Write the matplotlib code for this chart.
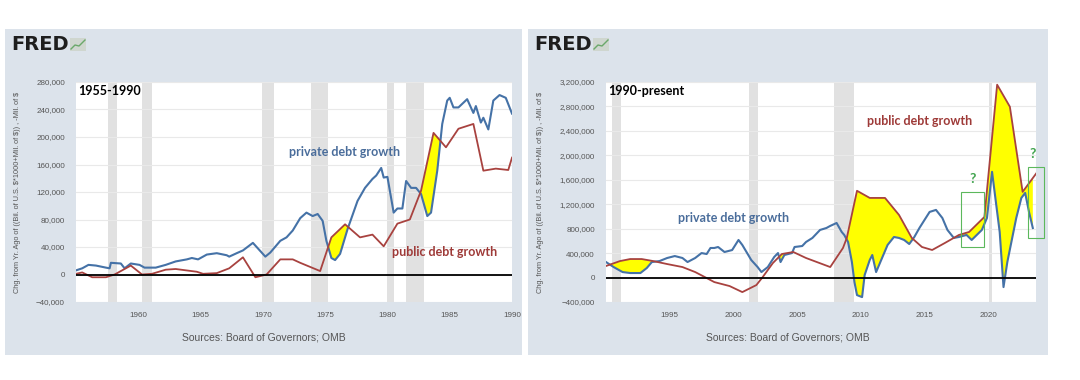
import matplotlib
matplotlib.use("Agg")
import matplotlib.pyplot as plt
import numpy as np
from matplotlib.patches import Rectangle
from matplotlib.lines import Line2D
from matplotlib.ticker import StrMethodFormatter

# --- dados: painel 1955-1990 (variação anual, mil. de $) ---
priv1_anos = [1955.0, 1955.5, 1956.0, 1956.6, 1957.4, 1957.7, 1957.8, 1958.6, 1958.9, 1959.4,
              1960.1, 1960.5, 1961.4, 1962.2, 1963.0, 1963.9, 1964.3, 1964.8, 1965.5, 1966.3,
              1967.1, 1967.3, 1967.9, 1968.4, 1969.2, 1970.2, 1970.6, 1971.4, 1971.9, 1972.4,
              1973.0, 1973.5, 1974.0, 1974.4, 1974.8, 1975.1, 1975.5, 1975.8, 1976.2, 1976.8,
              1977.6, 1978.2, 1978.8, 1979.1, 1979.5, 1979.7, 1980.0, 1980.5, 1980.8, 1981.2,
              1981.5, 1981.9, 1982.3, 1982.7, 1983.2, 1983.5, 1984.0, 1984.4, 1984.8, 1985.0,
              1985.3, 1985.7, 1986.4, 1986.9, 1987.1, 1987.5, 1987.7, 1988.1, 1988.5, 1989.0,
              1989.5, 1990.0]
priv1_val = [6000, 9000, 14000, 13000, 10000, 9000, 17000, 16000, 9000, 16000,
             14000, 10000, 10000, 14000, 19000, 22000, 24000, 22000, 29000, 31000,
             28000, 26000, 31000, 35000, 46000, 26000, 32000, 49000, 54000, 64000,
             82000, 90000, 85000, 88000, 78000, 49000, 24000, 21000, 30000, 66000,
             107000, 126000, 139000, 144000, 155000, 141000, 142000, 90000, 96000, 96000,
             136000, 126000, 126000, 117000, 85000, 90000, 151000, 219000, 253000, 257000,
             243000, 243000, 255000, 235000, 245000, 221000, 228000, 211000, 253000, 261000,
             257000, 234000]

pub1_anos = [1955.0, 1955.5, 1956.3, 1957.4, 1958.1, 1959.4, 1960.3, 1961.1, 1962.2, 1963.0,
             1964.7, 1965.2, 1966.3, 1967.3, 1968.4, 1969.4, 1970.3, 1971.4, 1972.4, 1973.0,
             1974.6, 1975.5, 1976.6, 1977.8, 1978.8, 1979.7, 1980.8, 1981.8, 1982.7, 1983.7,
             1984.7, 1985.7, 1986.9, 1987.7, 1988.7, 1989.7, 1990.0]
pub1_val = [1000, 3000, -4000, -4000, 0, 13000, 0, 1000, 7000, 8000,
            4000, 1000, 2000, 9000, 25000, -4000, 0, 22000, 22000, 17000,
            5000, 54000, 73000, 54000, 58000, 41000, 74000, 80000, 122000, 206000,
            185000, 212000, 219000, 151000, 154000, 152000, 170000]

# --- dados: painel 1990-presente ---
priv2_anos = [1990.0, 1990.6, 1991.3, 1991.9, 1992.7, 1993.2, 1993.6, 1994.2, 1994.8, 1995.4,
              1996.0, 1996.4, 1997.0, 1997.5, 1997.9, 1998.2, 1998.5, 1998.8, 1999.3, 1999.9,
              2000.4, 2000.7, 2001.4, 2001.9, 2002.2, 2002.7, 2003.2, 2003.5, 2003.7, 2004.0,
              2004.6, 2004.8, 2005.4, 2005.7, 2006.2, 2006.8, 2007.3, 2007.6, 2008.1, 2008.5,
              2008.7, 2009.0, 2009.3, 2009.5, 2009.7, 2010.1, 2010.3, 2010.7, 2010.9, 2011.2,
              2011.6, 2012.1, 2012.6, 2013.0, 2013.4, 2013.8, 2014.2, 2014.6, 2015.0, 2015.4,
              2015.9, 2016.4, 2016.8, 2017.3, 2017.7, 2018.3, 2018.7, 2019.1, 2019.5, 2019.9,
              2020.3, 2020.6, 2020.9, 2021.2, 2021.5, 2022.2, 2022.6, 2022.9, 2023.2, 2023.5]
priv2_val = [254000, 172000, 90000, 74000, 74000, 156000, 254000, 270000, 320000, 352000,
             320000, 254000, 320000, 401000, 385000, 484000, 484000, 500000, 418000, 450000,
             615000, 533000, 287000, 172000, 90000, 172000, 336000, 401000, 254000, 369000,
             401000, 500000, 516000, 582000, 648000, 779000, 811000, 845000, 893000, 746000,
             697000, 582000, 254000, -74000, -287000, -320000, 41000, 287000, 369000, 90000,
             287000, 533000, 664000, 648000, 615000, 549000, 664000, 811000, 943000, 1074000,
             1107000, 975000, 779000, 648000, 664000, 697000, 615000, 697000, 779000, 975000,
             1730000, 1238000, 746000, -156000, 254000, 975000, 1303000, 1385000, 1074000, 811000]

pub2_anos = [1990.0, 1991.1, 1991.9, 1992.8, 1993.7, 1994.8, 1996.0, 1997.0, 1997.6, 1998.5,
             1999.7, 2000.7, 2001.8, 2002.3, 2003.1, 2003.8, 2004.7, 2005.7, 2007.6, 2008.6,
             2008.9, 2009.7, 2010.7, 2011.9, 2013.0, 2014.0, 2014.8, 2015.6, 2016.6, 2017.7,
             2018.5, 2019.7, 2020.7, 2021.7, 2022.7, 2023.8]
pub2_val = [189000, 270000, 303000, 303000, 270000, 221000, 172000, 90000, 25000, -74000,
            -139000, -238000, -123000, 8000, 238000, 385000, 418000, 320000, 172000, 484000,
            648000, 1420000, 1303000, 1303000, 1024000, 648000, 500000, 451000, 566000, 697000,
            746000, 992000, 3156000, 2795000, 1402000, 1713000]

# recessões (NBER)
rec1 = [(1957.6, 1958.3), (1960.3, 1961.1), (1969.9, 1970.9), (1973.9, 1975.2), (1980.0, 1980.5), (1981.5, 1982.9)]
rec2 = [(1990.5, 1991.2), (2001.2, 2001.9), (2007.9, 2009.5), (2020.1, 2020.3)]

# caixas "?" no painel 2: (x0, x1, y0, y1)
caixas = [(2017.9, 2019.7, 500000, 1402000), (2023.1, 2024.35, 648000, 1811000)]

AZUL = "#4572a7"
VERM = "#a8423f"
FUNDO = "#dce3eb"
CINZA = "#555555"

fig = plt.figure(figsize=(10.8, 3.8), dpi=100)
fig.patch.set_facecolor("white")
W, H = 1080, 380

def px_rect(x0, x1, y0, y1, **kw):
    return Rectangle((x0 / W, 1 - y1 / H), (x1 - x0) / W, (y1 - y0) / H,
                     transform=fig.transFigure, **kw)

for (a, b) in [(5, 522), (528, 1048)]:
    fig.patches.append(px_rect(a, b, 29, 355, facecolor=FUNDO, edgecolor="none", zorder=-10))
    fig.text((a + 6) / W, 1 - 45 / H, "FRED", fontsize=14, fontweight="bold",
             family="DejaVu Sans", color="#1e1e1e", va="center")
    # iconezinho do logo
    fig.patches.append(px_rect(a + 65, a + 81, 38, 51, facecolor="#cfd6cf", edgecolor="none"))
    fig.add_artist(Line2D([(a + 66) / W, (a + 70) / W, (a + 74) / W, (a + 80) / W],
                          [1 - 49 / H, 1 - 45 / H, 1 - 46 / H, 1 - 40 / H],
                          color="#6aa86a", lw=1.0, transform=fig.transFigure))
    fig.text((a + b) / 2 / W, 1 - 338 / H, "Sources: Board of Governors; OMB",
             fontsize=7.5, color=CINZA, ha="center", va="center", family="Liberation Sans")
    fig.text((a + 13) / W, 1 - 192 / H,
             "Chg. from Yr. Ago of ((Bil. of U.S. $*1000+Mil. of $)) , -Mil. of $",
             rotation=90, fontsize=5.3, color=CINZA, ha="center", va="center",
             family="Liberation Sans")

ax1 = fig.add_axes([76 / W, 1 - 302 / H, 436 / W, 220 / H])
ax2 = fig.add_axes([606 / W, 1 - 302 / H, 430 / W, 220 / H])


def painel(ax, px, pv, ux, uv, rec, xlim, ylim, ystep, xticks):
    ax.set_facecolor("white")
    for s in ax.spines.values():
        s.set_visible(False)
    for (a, b) in rec:
        ax.axvspan(a, b, color="#e1e1e1", lw=0, zorder=0)
    ax.set_xlim(*xlim)
    ax.set_ylim(*ylim)
    ax.set_yticks(np.arange(ylim[0], ylim[1] + 1, ystep))
    ax.set_xticks(xticks)
    ax.yaxis.set_major_formatter(StrMethodFormatter("{x:,.0f}"))
    ax.grid(axis="y", color="#e9e9e9", lw=0.8, zorder=0.5)
    ax.set_axisbelow(True)
    ax.tick_params(axis="y", length=0, pad=8, labelsize=5.8, labelcolor=CINZA)
    ax.tick_params(axis="x", length=0, pad=7, labelsize=5.8, labelcolor=CINZA)
    for lab in ax.get_xticklabels() + ax.get_yticklabels():
        lab.set_family("Liberation Sans")

    # preenchimento amarelo onde a dívida pública supera a privada
    lo = max(px[0], ux[0])
    hi = min(px[-1], ux[-1])
    xs = np.linspace(lo, hi, 4000)
    bp = np.interp(xs, px, pv)
    bu = np.interp(xs, ux, uv)
    ax.fill_between(xs, bp, bu, where=bu > bp, interpolate=True,
                    color="#ffff00", lw=0, zorder=1)

    ax.plot(px, pv, color=AZUL, lw=1.5, zorder=3)
    ax.plot(ux, uv, color=VERM, lw=1.3, zorder=3)
    ax.axhline(0, color="black", lw=1.3, zorder=4)


painel(ax1, priv1_anos, priv1_val, pub1_anos, pub1_val, rec1,
       (1955, 1990), (-40000, 280000), 40000, [1960, 1965, 1970, 1975, 1980, 1985, 1990])
painel(ax2, priv2_anos, priv2_val, pub2_anos, pub2_val, rec2,
       (1990, 2023.75), (-400000, 3200000), 400000, [1995, 2000, 2005, 2010, 2015, 2020])

txt = dict(fontsize=9, fontweight="bold", family=["Lato", "DejaVu Sans"], va="center")
ax1.text(0.004, 0.96, "1955-1990", transform=ax1.transAxes, color="black", **txt)
ax1.text(0.489, 0.682, "private debt growth", transform=ax1.transAxes, color="#4a6d9b", **txt)
ax1.text(0.725, 0.227, "public debt growth", transform=ax1.transAxes, color="#9e3a38", **txt)
ax2.text(0.005, 0.96, "1990-present", transform=ax2.transAxes, color="black", **txt)
ax2.text(0.607, 0.823, "public debt growth", transform=ax2.transAxes, color="#9e3a38", **txt)
ax2.text(0.167, 0.382, "private debt growth", transform=ax2.transAxes, color="#4a6d9b", **txt)

for (x0, x1, y0, y1) in caixas:
    ax2.add_patch(Rectangle((x0, y0), x1 - x0, y1 - y0, fill=False, edgecolor="#5cb85c",
                            lw=0.8, zorder=5, clip_on=False))
    ax2.text((x0 + x1) / 2 if x1 < 2023.75 else x0 + 0.4, y1 + 120000, "?", color="#3fa34d",
             fontsize=10, fontweight="bold", ha="center", va="bottom",
             family=["Lato", "DejaVu Sans"], clip_on=False)

plt.savefig("out.png", dpi=100, facecolor="white")
